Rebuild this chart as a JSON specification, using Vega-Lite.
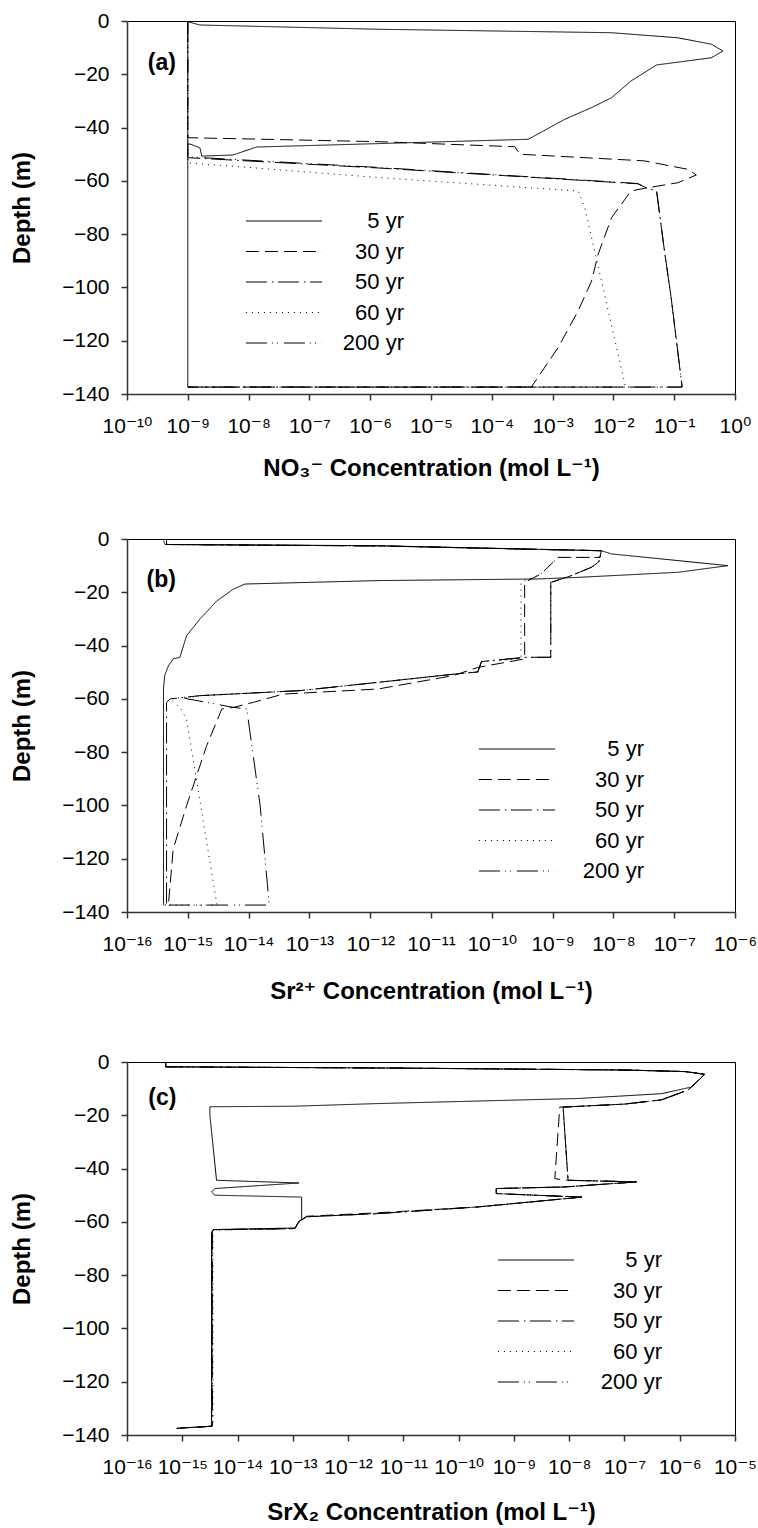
{
  "$schema": "https://vega.github.io/schema/vega-lite/v6.json",
  "padding": {"left": 10, "top": 9, "right": 10, "bottom": 4},
  "spacing": 46,
  "config": {
    "font": "Liberation Sans",
    "view": {"stroke": "#000", "strokeWidth": 1},
    "axis": {"labelFont": "Liberation Sans, DejaVu Sans", "titleFont": "Liberation Sans, DejaVu Sans", "labelFontSize": 21, "titleFontSize": 24, "titleFontWeight": "bold", "labelColor": "#000", "titleColor": "#000", "domainColor": "#333", "domainWidth": 1.5, "tickColor": "#333", "tickWidth": 1.5, "tickSize": 6, "grid": false, "labelFlush": false, "labelOverlap": false, "labelBound": false},
    "axisX": {"labelPadding": 15, "titlePadding": 23},
    "axisY": {"labelPadding": 12, "titlePadding": 27},
    "legend": {"orient": "none", "title": null, "padding": 0, "symbolType": "stroke", "symbolSize": 5800, "symbolStrokeWidth": 1, "symbolStrokeColor": "#000", "labelFont": "Liberation Sans", "labelFontSize": 22, "labelColor": "#000", "labelAlign": "right", "rowPadding": 8.5, "clipHeight": 22, "symbolOffset": 0, "labelLimit": 0}
  },
  "resolve": {"scale": {"x": "independent", "y": "independent", "strokeDash": "independent"}, "legend": {"strokeDash": "independent"}},
  "datasets": {
    "labels": [
      {"p": "a", "t": "(a)", "c": 2.2e-10, "d": -15.8},
      {"p": "b", "t": "(b)", "c": 2.1e-16, "d": -15.4},
      {"p": "c", "t": "(c)", "c": 2.43e-16, "d": -13.4}
    ],
    "lines": [
      {"p":"a","s":"5 yr","c":1e-9,"d":-0.3},{"p":"a","s":"5 yr","c":1.585e-9,"d":-1.5},{"p":"a","s":"5 yr","c":1.349e-6,"d":-3.1},{"p":"a","s":"5 yr","c":0.00933,"d":-4.4},{"p":"a","s":"5 yr","c":0.1148,"d":-6.3},{"p":"a","s":"5 yr","c":0.407,"d":-8.7},{"p":"a","s":"5 yr","c":0.635,"d":-11.3},{"p":"a","s":"5 yr","c":0.407,"d":-13.8},{"p":"a","s":"5 yr","c":0.0513,"d":-16.5},{"p":"a","s":"5 yr","c":0.0195,"d":-22.5},{"p":"a","s":"5 yr","c":0.00933,"d":-28.8},{"p":"a","s":"5 yr","c":0.00437,"d":-32.5},{"p":"a","s":"5 yr","c":0.001585,"d":-36.9},{"p":"a","s":"5 yr","c":0.000398,"d":-44.4},{"p":"a","s":"5 yr","c":1.445e-6,"d":-46.0},{"p":"a","s":"5 yr","c":1.349e-8,"d":-47.3},{"p":"a","s":"5 yr","c":7.24e-9,"d":-49.4},{"p":"a","s":"5 yr","c":5.5e-9,"d":-50.3},{"p":"a","s":"5 yr","c":1.7e-9,"d":-50.7},{"p":"a","s":"5 yr","c":1.585e-9,"d":-47.6},{"p":"a","s":"5 yr","c":1.096e-9,"d":-46.2},{"p":"a","s":"5 yr","c":1e-9,"d":-46.2},{"p":"a","s":"5 yr","c":1e-9,"d":-137.4},

      {"p":"a","s":"30 yr","c":1e-9,"d":0},{"p":"a","s":"30 yr","c":1e-9,"d":-43.8},{"p":"a","s":"30 yr","c":1.445e-6,"d":-45.3},{"p":"a","s":"30 yr","c":0.00024,"d":-47.2},{"p":"a","s":"30 yr","c":0.000288,"d":-50.0},{"p":"a","s":"30 yr","c":0.0324,"d":-52.5},{"p":"a","s":"30 yr","c":0.17,"d":-55.7},{"p":"a","s":"30 yr","c":0.231,"d":-57.8},{"p":"a","s":"30 yr","c":0.115,"d":-60.7},{"p":"a","s":"30 yr","c":0.0324,"d":-62.8},{"p":"a","s":"30 yr","c":0.0195,"d":-63.8},{"p":"a","s":"30 yr","c":0.00933,"d":-73.8},{"p":"a","s":"30 yr","c":0.00562,"d":-87.5},{"p":"a","s":"30 yr","c":0.00437,"d":-97.6},{"p":"a","s":"30 yr","c":0.00263,"d":-108.8},{"p":"a","s":"30 yr","c":0.00123,"d":-122.6},{"p":"a","s":"30 yr","c":0.000447,"d":-137.4},{"p":"a","s":"30 yr","c":1e-9,"d":-137.4},

      {"p":"a","s":"50 yr","c":1e-9,"d":0},{"p":"a","s":"50 yr","c":1e-9,"d":-51.3},{"p":"a","s":"50 yr","c":1.445e-6,"d":-55.2},{"p":"a","s":"50 yr","c":0.0251,"d":-61.1},{"p":"a","s":"50 yr","c":0.0347,"d":-62.6},{"p":"a","s":"50 yr","c":0.0513,"d":-63.8},{"p":"a","s":"50 yr","c":0.0692,"d":-86.3},{"p":"a","s":"50 yr","c":0.0891,"d":-103.9},{"p":"a","s":"50 yr","c":0.135,"d":-137.4},{"p":"a","s":"50 yr","c":1e-9,"d":-137.4},

      {"p":"a","s":"60 yr","c":1e-9,"d":0},{"p":"a","s":"60 yr","c":1e-9,"d":-53.2},{"p":"a","s":"60 yr","c":1.445e-6,"d":-58.8},{"p":"a","s":"60 yr","c":0.00263,"d":-63.8},{"p":"a","s":"60 yr","c":0.00339,"d":-70.1},{"p":"a","s":"60 yr","c":0.01585,"d":-137.4},{"p":"a","s":"60 yr","c":1e-9,"d":-137.4},

      {"p":"a","s":"200 yr","c":1e-9,"d":0},{"p":"a","s":"200 yr","c":1e-9,"d":-51.0},{"p":"a","s":"200 yr","c":1.445e-6,"d":-55.0},{"p":"a","s":"200 yr","c":0.0251,"d":-61.0},{"p":"a","s":"200 yr","c":0.0347,"d":-62.6},{"p":"a","s":"200 yr","c":0.0513,"d":-63.8},{"p":"a","s":"200 yr","c":0.0692,"d":-86.3},{"p":"a","s":"200 yr","c":0.0891,"d":-103.9},{"p":"a","s":"200 yr","c":0.135,"d":-137.4},{"p":"a","s":"200 yr","c":1e-9,"d":-137.4},

      {"p":"b","s":"5 yr","c":3.98e-16,"d":-0.64},{"p":"b","s":"5 yr","c":4.22e-16,"d":-2.06},{"p":"b","s":"5 yr","c":1.349e-12,"d":-2.51},{"p":"b","s":"5 yr","c":6.31e-9,"d":-4.4},{"p":"b","s":"5 yr","c":9.33e-9,"d":-5.6},{"p":"b","s":"5 yr","c":1.148e-7,"d":-8.1},{"p":"b","s":"5 yr","c":7.67e-7,"d":-10.0},{"p":"b","s":"5 yr","c":1.148e-7,"d":-12.5},{"p":"b","s":"5 yr","c":2.63e-9,"d":-14.4},{"p":"b","s":"5 yr","c":5.75e-10,"d":-15.0},{"p":"b","s":"5 yr","c":1.445e-12,"d":-15.6},{"p":"b","s":"5 yr","c":8.71e-15,"d":-16.9},{"p":"b","s":"5 yr","c":5.62e-15,"d":-18.8},{"p":"b","s":"5 yr","c":3.02e-15,"d":-23.2},{"p":"b","s":"5 yr","c":1.585e-15,"d":-30.0},{"p":"b","s":"5 yr","c":9.55e-16,"d":-36.3},{"p":"b","s":"5 yr","c":7.41e-16,"d":-44.4},{"p":"b","s":"5 yr","c":5.75e-16,"d":-45.0},{"p":"b","s":"5 yr","c":4.79e-16,"d":-47.6},{"p":"b","s":"5 yr","c":4.17e-16,"d":-51.3},{"p":"b","s":"5 yr","c":3.98e-16,"d":-56.3},{"p":"b","s":"5 yr","c":3.98e-16,"d":-137.4},

      {"p":"b","s":"30 yr","c":4.47e-16,"d":-0.64},{"p":"b","s":"30 yr","c":4.47e-16,"d":-2.06},{"p":"b","s":"30 yr","c":1.349e-12,"d":-2.6},{"p":"b","s":"30 yr","c":6.31e-9,"d":-4.4},{"p":"b","s":"30 yr","c":6.03e-9,"d":-6.9},{"p":"b","s":"30 yr","c":1.23e-9,"d":-6.9},{"p":"b","s":"30 yr","c":6.46e-10,"d":-13.1},{"p":"b","s":"30 yr","c":3.47e-10,"d":-16.3},{"p":"b","s":"30 yr","c":3.47e-10,"d":-45.0},{"p":"b","s":"30 yr","c":5.89e-11,"d":-48.2},{"p":"b","s":"30 yr","c":2.29e-11,"d":-51.3},{"p":"b","s":"30 yr","c":1.349e-12,"d":-56.3},{"p":"b","s":"30 yr","c":3.72e-14,"d":-58.2},{"p":"b","s":"30 yr","c":1.202e-14,"d":-61.3},{"p":"b","s":"30 yr","c":5.62e-15,"d":-63.2},{"p":"b","s":"30 yr","c":3.63e-15,"d":-63.8},{"p":"b","s":"30 yr","c":2.04e-15,"d":-77.6},{"p":"b","s":"30 yr","c":9.55e-16,"d":-100.1},{"p":"b","s":"30 yr","c":5.75e-16,"d":-116.4},{"p":"b","s":"30 yr","c":4.79e-16,"d":-137.4},{"p":"b","s":"30 yr","c":4.17e-16,"d":-137.4},

      {"p":"b","s":"50 yr","c":4.47e-16,"d":-0.64},{"p":"b","s":"50 yr","c":4.47e-16,"d":-2.06},{"p":"b","s":"50 yr","c":1.349e-12,"d":-2.6},{"p":"b","s":"50 yr","c":6.31e-9,"d":-4.4},{"p":"b","s":"50 yr","c":5.75e-9,"d":-8.6},{"p":"b","s":"50 yr","c":4.37e-9,"d":-10.6},{"p":"b","s":"50 yr","c":1.905e-9,"d":-14.0},{"p":"b","s":"50 yr","c":9.33e-10,"d":-16.3},{"p":"b","s":"50 yr","c":9.33e-10,"d":-44.4},{"p":"b","s":"50 yr","c":3.63e-10,"d":-44.4},{"p":"b","s":"50 yr","c":6.76e-11,"d":-46.0},{"p":"b","s":"50 yr","c":5.89e-11,"d":-49.9},{"p":"b","s":"50 yr","c":2.45e-11,"d":-50.7},{"p":"b","s":"50 yr","c":1.349e-12,"d":-53.8},{"p":"b","s":"50 yr","c":7.08e-14,"d":-56.9},{"p":"b","s":"50 yr","c":1.585e-15,"d":-58.8},{"p":"b","s":"50 yr","c":5.13e-16,"d":-60.0},{"p":"b","s":"50 yr","c":4.47e-16,"d":-61.3},{"p":"b","s":"50 yr","c":4.47e-16,"d":-137.4},{"p":"b","s":"50 yr","c":4.17e-16,"d":-137.4},

      {"p":"b","s":"60 yr","c":4.47e-16,"d":-0.64},{"p":"b","s":"60 yr","c":4.47e-16,"d":-2.06},{"p":"b","s":"60 yr","c":1.349e-12,"d":-2.6},{"p":"b","s":"60 yr","c":6.31e-9,"d":-4.4},{"p":"b","s":"60 yr","c":6.03e-9,"d":-6.9},{"p":"b","s":"60 yr","c":1.23e-9,"d":-6.9},{"p":"b","s":"60 yr","c":6.46e-10,"d":-13.1},{"p":"b","s":"60 yr","c":3.02e-10,"d":-16.3},{"p":"b","s":"60 yr","c":3.02e-10,"d":-45.0},{"p":"b","s":"60 yr","c":6.76e-11,"d":-46.0},{"p":"b","s":"60 yr","c":5.89e-11,"d":-49.9},{"p":"b","s":"60 yr","c":2.45e-11,"d":-50.7},{"p":"b","s":"60 yr","c":1.349e-12,"d":-53.8},{"p":"b","s":"60 yr","c":7.08e-14,"d":-56.9},{"p":"b","s":"60 yr","c":1.585e-15,"d":-58.8},{"p":"b","s":"60 yr","c":5.13e-16,"d":-60.0},{"p":"b","s":"60 yr","c":7.41e-16,"d":-63.2},{"p":"b","s":"60 yr","c":9.55e-16,"d":-67.6},{"p":"b","s":"60 yr","c":3.02e-15,"d":-137.4},{"p":"b","s":"60 yr","c":4.17e-16,"d":-137.4},

      {"p":"b","s":"200 yr","c":4.47e-16,"d":-0.64},{"p":"b","s":"200 yr","c":4.47e-16,"d":-2.06},{"p":"b","s":"200 yr","c":1.349e-12,"d":-2.6},{"p":"b","s":"200 yr","c":6.31e-9,"d":-4.4},{"p":"b","s":"200 yr","c":5.75e-9,"d":-8.6},{"p":"b","s":"200 yr","c":4.37e-9,"d":-10.6},{"p":"b","s":"200 yr","c":1.905e-9,"d":-14.0},{"p":"b","s":"200 yr","c":9.33e-10,"d":-16.3},{"p":"b","s":"200 yr","c":9.33e-10,"d":-44.4},{"p":"b","s":"200 yr","c":3.63e-10,"d":-44.4},{"p":"b","s":"200 yr","c":6.76e-11,"d":-46.0},{"p":"b","s":"200 yr","c":5.89e-11,"d":-49.9},{"p":"b","s":"200 yr","c":2.45e-11,"d":-50.7},{"p":"b","s":"200 yr","c":1.349e-12,"d":-53.8},{"p":"b","s":"200 yr","c":7.08e-14,"d":-56.9},{"p":"b","s":"200 yr","c":1.585e-15,"d":-58.8},{"p":"b","s":"200 yr","c":8.91e-16,"d":-59.8},{"p":"b","s":"200 yr","c":5.62e-15,"d":-63.2},{"p":"b","s":"200 yr","c":9.33e-15,"d":-63.8},{"p":"b","s":"200 yr","c":1.549e-14,"d":-100.1},{"p":"b","s":"200 yr","c":2.19e-14,"d":-137.4},{"p":"b","s":"200 yr","c":4.17e-16,"d":-137.4},

      {"p":"c","s":"5 yr","c":5.01e-16,"d":-0.5},{"p":"c","s":"5 yr","c":5.01e-16,"d":-1.8},{"p":"c","s":"5 yr","c":1e-11,"d":-2.3},{"p":"c","s":"5 yr","c":1e-7,"d":-3.0},{"p":"c","s":"5 yr","c":1.259e-6,"d":-3.6},{"p":"c","s":"5 yr","c":2.82e-6,"d":-4.6},{"p":"c","s":"5 yr","c":2.19e-6,"d":-6.9},{"p":"c","s":"5 yr","c":1.622e-6,"d":-9.4},{"p":"c","s":"5 yr","c":4.68e-7,"d":-11.9},{"p":"c","s":"5 yr","c":1.445e-8,"d":-13.7},{"p":"c","s":"5 yr","c":3.47e-12,"d":-15.6},{"p":"c","s":"5 yr","c":1.023e-13,"d":-16.6},{"p":"c","s":"5 yr","c":3.16e-15,"d":-16.8},{"p":"c","s":"5 yr","c":3.16e-15,"d":-20},{"p":"c","s":"5 yr","c":4.17e-15,"d":-44.4},{"p":"c","s":"5 yr","c":1.288e-13,"d":-45.4},{"p":"c","s":"5 yr","c":3.89e-15,"d":-47.5},{"p":"c","s":"5 yr","c":3.39e-15,"d":-48.8},{"p":"c","s":"5 yr","c":3.89e-15,"d":-50.0},{"p":"c","s":"5 yr","c":1.445e-13,"d":-50.7},{"p":"c","s":"5 yr","c":1.445e-13,"d":-58.8},{"p":"c","s":"5 yr","c":1.096e-13,"d":-62.3},{"p":"c","s":"5 yr","c":3.63e-15,"d":-62.9},{"p":"c","s":"5 yr","c":3.39e-15,"d":-63.8},{"p":"c","s":"5 yr","c":3.39e-15,"d":-136.7},{"p":"c","s":"5 yr","c":7.94e-16,"d":-137.5},

      {"p":"c","s":"30 yr","c":5.01e-16,"d":-0.5},{"p":"c","s":"30 yr","c":5.01e-16,"d":-1.8},{"p":"c","s":"30 yr","c":1e-11,"d":-2.3},{"p":"c","s":"30 yr","c":1e-7,"d":-3.0},{"p":"c","s":"30 yr","c":1.259e-6,"d":-3.6},{"p":"c","s":"30 yr","c":2.82e-6,"d":-4.6},{"p":"c","s":"30 yr","c":2.19e-6,"d":-6.9},{"p":"c","s":"30 yr","c":1.413e-6,"d":-10.5},{"p":"c","s":"30 yr","c":4.68e-7,"d":-14.2},{"p":"c","s":"30 yr","c":1e-7,"d":-15.8},{"p":"c","s":"30 yr","c":8.32e-9,"d":-16.9},{"p":"c","s":"30 yr","c":6.76e-9,"d":-16.9},{"p":"c","s":"30 yr","c":5.5e-9,"d":-43.8},{"p":"c","s":"30 yr","c":9.55e-9,"d":-44.4},{"p":"c","s":"30 yr","c":1.66e-7,"d":-45.0},{"p":"c","s":"30 yr","c":8.32e-9,"d":-46.9},{"p":"c","s":"30 yr","c":4.79e-10,"d":-47.5},{"p":"c","s":"30 yr","c":4.79e-10,"d":-49.4},{"p":"c","s":"30 yr","c":1.698e-8,"d":-50.7},{"p":"c","s":"30 yr","c":2.24e-10,"d":-54.4},{"p":"c","s":"30 yr","c":3.47e-12,"d":-56.6},{"p":"c","s":"30 yr","c":1.778e-13,"d":-57.9},{"p":"c","s":"30 yr","c":1.259e-13,"d":-60.0},{"p":"c","s":"30 yr","c":1.096e-13,"d":-62.5},{"p":"c","s":"30 yr","c":3.63e-15,"d":-62.9},{"p":"c","s":"30 yr","c":3.39e-15,"d":-63.8},{"p":"c","s":"30 yr","c":3.39e-15,"d":-136.7},{"p":"c","s":"30 yr","c":7.94e-16,"d":-137.5},

      {"p":"c","s":"50 yr","c":5.01e-16,"d":-0.5},{"p":"c","s":"50 yr","c":5.01e-16,"d":-1.8},{"p":"c","s":"50 yr","c":1e-11,"d":-2.3},{"p":"c","s":"50 yr","c":1e-7,"d":-3.0},{"p":"c","s":"50 yr","c":1.259e-6,"d":-3.6},{"p":"c","s":"50 yr","c":2.82e-6,"d":-4.6},{"p":"c","s":"50 yr","c":2.19e-6,"d":-6.9},{"p":"c","s":"50 yr","c":1.413e-6,"d":-10.5},{"p":"c","s":"50 yr","c":4.68e-7,"d":-14.2},{"p":"c","s":"50 yr","c":1e-7,"d":-15.8},{"p":"c","s":"50 yr","c":8.32e-9,"d":-16.9},{"p":"c","s":"50 yr","c":7.76e-9,"d":-16.9},{"p":"c","s":"50 yr","c":9.55e-9,"d":-44.4},{"p":"c","s":"50 yr","c":1.66e-7,"d":-45.0},{"p":"c","s":"50 yr","c":8.32e-9,"d":-46.9},{"p":"c","s":"50 yr","c":4.79e-10,"d":-47.5},{"p":"c","s":"50 yr","c":4.79e-10,"d":-49.4},{"p":"c","s":"50 yr","c":1.698e-8,"d":-50.7},{"p":"c","s":"50 yr","c":2.24e-10,"d":-54.4},{"p":"c","s":"50 yr","c":3.47e-12,"d":-56.9},{"p":"c","s":"50 yr","c":1.778e-13,"d":-58.1},{"p":"c","s":"50 yr","c":1.259e-13,"d":-60.0},{"p":"c","s":"50 yr","c":1.096e-13,"d":-62.5},{"p":"c","s":"50 yr","c":3.63e-15,"d":-63.0},{"p":"c","s":"50 yr","c":3.5e-15,"d":-63.8},{"p":"c","s":"50 yr","c":3.5e-15,"d":-136.7},{"p":"c","s":"50 yr","c":7.94e-16,"d":-137.5},

      {"p":"c","s":"60 yr","c":5.01e-16,"d":-0.5},{"p":"c","s":"60 yr","c":5.01e-16,"d":-1.8},{"p":"c","s":"60 yr","c":1e-11,"d":-2.3},{"p":"c","s":"60 yr","c":1e-7,"d":-3.0},{"p":"c","s":"60 yr","c":1.259e-6,"d":-3.6},{"p":"c","s":"60 yr","c":2.82e-6,"d":-4.6},{"p":"c","s":"60 yr","c":2.19e-6,"d":-6.9},{"p":"c","s":"60 yr","c":1.413e-6,"d":-10.5},{"p":"c","s":"60 yr","c":4.68e-7,"d":-14.2},{"p":"c","s":"60 yr","c":1e-7,"d":-15.8},{"p":"c","s":"60 yr","c":8.32e-9,"d":-16.9},{"p":"c","s":"60 yr","c":7.76e-9,"d":-16.9},{"p":"c","s":"60 yr","c":9.55e-9,"d":-44.4},{"p":"c","s":"60 yr","c":1.66e-7,"d":-45.0},{"p":"c","s":"60 yr","c":8.32e-9,"d":-46.9},{"p":"c","s":"60 yr","c":4.79e-10,"d":-47.5},{"p":"c","s":"60 yr","c":4.79e-10,"d":-49.4},{"p":"c","s":"60 yr","c":1.698e-8,"d":-50.7},{"p":"c","s":"60 yr","c":2.24e-10,"d":-54.4},{"p":"c","s":"60 yr","c":3.47e-12,"d":-56.9},{"p":"c","s":"60 yr","c":1.778e-13,"d":-58.1},{"p":"c","s":"60 yr","c":1.259e-13,"d":-60.0},{"p":"c","s":"60 yr","c":1.096e-13,"d":-62.5},{"p":"c","s":"60 yr","c":3.63e-15,"d":-63.1},{"p":"c","s":"60 yr","c":3.6e-15,"d":-63.8},{"p":"c","s":"60 yr","c":3.6e-15,"d":-136.7},{"p":"c","s":"60 yr","c":7.94e-16,"d":-137.5},

      {"p":"c","s":"200 yr","c":5.01e-16,"d":-0.5},{"p":"c","s":"200 yr","c":5.01e-16,"d":-1.8},{"p":"c","s":"200 yr","c":1e-11,"d":-2.3},{"p":"c","s":"200 yr","c":1e-7,"d":-3.0},{"p":"c","s":"200 yr","c":1.259e-6,"d":-3.6},{"p":"c","s":"200 yr","c":2.82e-6,"d":-4.6},{"p":"c","s":"200 yr","c":2.19e-6,"d":-6.9},{"p":"c","s":"200 yr","c":1.413e-6,"d":-10.5},{"p":"c","s":"200 yr","c":4.68e-7,"d":-14.2},{"p":"c","s":"200 yr","c":1e-7,"d":-15.8},{"p":"c","s":"200 yr","c":8.32e-9,"d":-16.9},{"p":"c","s":"200 yr","c":7.76e-9,"d":-16.9},{"p":"c","s":"200 yr","c":9.55e-9,"d":-44.4},{"p":"c","s":"200 yr","c":1.66e-7,"d":-45.0},{"p":"c","s":"200 yr","c":8.32e-9,"d":-46.9},{"p":"c","s":"200 yr","c":4.79e-10,"d":-47.5},{"p":"c","s":"200 yr","c":4.79e-10,"d":-49.4},{"p":"c","s":"200 yr","c":1.698e-8,"d":-50.7},{"p":"c","s":"200 yr","c":2.24e-10,"d":-54.4},{"p":"c","s":"200 yr","c":3.47e-12,"d":-56.9},{"p":"c","s":"200 yr","c":1.778e-13,"d":-58.1},{"p":"c","s":"200 yr","c":1.259e-13,"d":-60.0},{"p":"c","s":"200 yr","c":1.096e-13,"d":-62.5},{"p":"c","s":"200 yr","c":3.63e-15,"d":-63.0},{"p":"c","s":"200 yr","c":3.45e-15,"d":-63.8},{"p":"c","s":"200 yr","c":3.45e-15,"d":-136.7},{"p":"c","s":"200 yr","c":7.94e-16,"d":-137.5}
    ]
  },
  "vconcat": [
    {
      "width": 608, "height": 373,
      "encoding": {
        "x": {"field": "c", "type": "quantitative", "scale": {"type": "log", "domain": [1e-10, 1], "nice": false},
          "axis": {"title": "NO₃⁻ Concentration (mol L⁻¹)", "titlePadding": 20, "values": [1e-10, 1e-9, 1e-8, 1e-7, 1e-6, 1e-5, 1e-4, 1e-3, 1e-2, 1e-1, 1],
            "labelExpr": "'10' + (round(log(datum.value)/LN10) < 0 ? '⁻' : '') + (abs(round(log(datum.value)/LN10)) >= 10 ? '¹' : '') + ['⁰','¹','²','³','⁴','⁵','⁶','⁷','⁸','⁹'][abs(round(log(datum.value)/LN10)) % 10]"}},
        "y": {"field": "d", "type": "quantitative", "scale": {"domain": [-140, 0], "nice": false, "zero": false},
          "axis": {"title": "Depth (m)", "values": [-140, -120, -100, -80, -60, -40, -20, 0]}}
      },
      "layer": [
        {
          "data": {"name": "lines"},
          "transform": [{"filter": "datum.p == 'a'"}],
          "mark": {"type": "line", "color": "#000", "strokeWidth": 1},
          "encoding": {
            "strokeDash": {"field": "s", "type": "nominal",
              "scale": {"domain": ["5 yr", "30 yr", "50 yr", "60 yr", "200 yr"], "range": [[1, 0], [13, 6], [21, 5, 1.5, 4.5], [1, 5], [21, 5, 1, 4, 1, 6]]},
              "legend": {"legendX": 118, "legendY": 189, "labelOffset": 81}},
            "order": {"value": null}
          }
        },
        {
          "data": {"name": "labels"},
          "transform": [{"filter": "datum.p == 'a'"}],
          "mark": {"type": "text", "font": "Liberation Sans", "fontSize": 23, "fontWeight": "bold", "align": "left", "baseline": "middle", "color": "#000"},
          "encoding": {"text": {"field": "t"}}
        }
      ]
    },
    {
      "width": 608, "height": 373,
      "encoding": {
        "x": {"field": "c", "type": "quantitative", "scale": {"type": "log", "domain": [1e-16, 1e-6], "nice": false},
          "axis": {"title": "Sr²⁺ Concentration (mol L⁻¹)", "titlePadding": 25, "values": [1e-16, 1e-15, 1e-14, 1e-13, 1e-12, 1e-11, 1e-10, 1e-9, 1e-8, 1e-7, 1e-6],
            "labelExpr": "'10' + (round(log(datum.value)/LN10) < 0 ? '⁻' : '') + (abs(round(log(datum.value)/LN10)) >= 10 ? '¹' : '') + ['⁰','¹','²','³','⁴','⁵','⁶','⁷','⁸','⁹'][abs(round(log(datum.value)/LN10)) % 10]"}},
        "y": {"field": "d", "type": "quantitative", "scale": {"domain": [-140, 0], "nice": false, "zero": false},
          "axis": {"title": "Depth (m)", "values": [-140, -120, -100, -80, -60, -40, -20, 0]}}
      },
      "layer": [
        {
          "data": {"name": "lines"},
          "transform": [{"filter": "datum.p == 'b'"}],
          "mark": {"type": "line", "color": "#000", "strokeWidth": 1},
          "encoding": {
            "strokeDash": {"field": "s", "type": "nominal",
              "scale": {"domain": ["5 yr", "30 yr", "50 yr", "60 yr", "200 yr"], "range": [[1, 0], [13, 6], [21, 5, 1.5, 4.5], [1, 5], [21, 5, 1, 4, 1, 6]]},
              "legend": {"legendX": 351, "legendY": 199, "labelOffset": 88}},
            "order": {"value": null}
          }
        },
        {
          "data": {"name": "labels"},
          "transform": [{"filter": "datum.p == 'b'"}],
          "mark": {"type": "text", "font": "Liberation Sans", "fontSize": 23, "fontWeight": "bold", "align": "left", "baseline": "middle", "color": "#000"},
          "encoding": {"text": {"field": "t"}}
        }
      ]
    },
    {
      "width": 608, "height": 373,
      "encoding": {
        "x": {"field": "c", "type": "quantitative", "scale": {"type": "log", "domain": [1e-16, 1e-5], "nice": false},
          "axis": {"title": "SrX₂ Concentration (mol L⁻¹)", "values": [1e-16, 1e-15, 1e-14, 1e-13, 1e-12, 1e-11, 1e-10, 1e-9, 1e-8, 1e-7, 1e-6, 1e-5],
            "labelExpr": "'10' + (round(log(datum.value)/LN10) < 0 ? '⁻' : '') + (abs(round(log(datum.value)/LN10)) >= 10 ? '¹' : '') + ['⁰','¹','²','³','⁴','⁵','⁶','⁷','⁸','⁹'][abs(round(log(datum.value)/LN10)) % 10]"}},
        "y": {"field": "d", "type": "quantitative", "scale": {"domain": [-140, 0], "nice": false, "zero": false},
          "axis": {"title": "Depth (m)", "values": [-140, -120, -100, -80, -60, -40, -20, 0]}}
      },
      "layer": [
        {
          "data": {"name": "lines"},
          "transform": [{"filter": "datum.p == 'c'"}],
          "mark": {"type": "line", "color": "#000", "strokeWidth": 1},
          "encoding": {
            "strokeDash": {"field": "s", "type": "nominal",
              "scale": {"domain": ["5 yr", "30 yr", "50 yr", "60 yr", "200 yr"], "range": [[1, 0], [13, 6], [21, 5, 1.5, 4.5], [1, 5], [21, 5, 1, 4, 1, 6]]},
              "legend": {"legendX": 370, "legendY": 187, "labelOffset": 87}},
            "order": {"value": null}
          }
        },
        {
          "data": {"name": "labels"},
          "transform": [{"filter": "datum.p == 'c'"}],
          "mark": {"type": "text", "font": "Liberation Sans", "fontSize": 23, "fontWeight": "bold", "align": "left", "baseline": "middle", "color": "#000"},
          "encoding": {"text": {"field": "t"}}
        }
      ]
    }
  ]
}
